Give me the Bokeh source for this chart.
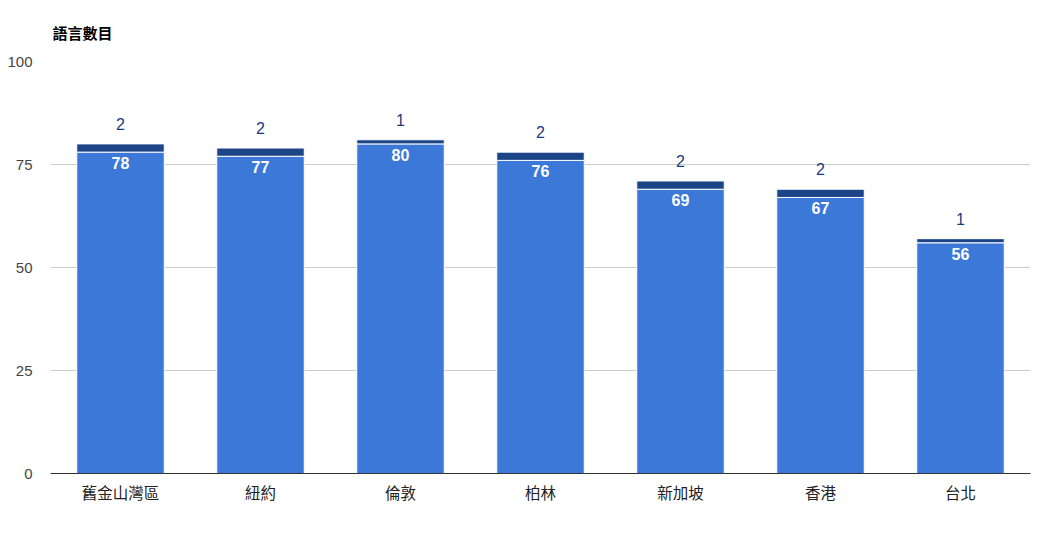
from bokeh.plotting import figure
from bokeh.models import ColumnDataSource, FactorRange, LabelSet, FixedTicker
from bokeh.core.properties import value
from bokeh.embed import file_html
from bokeh.resources import INLINE

cities = ["舊金山灣區", "紐約", "倫敦", "柏林", "新加坡", "香港", "台北"]
base_values = [78, 77, 80, 76, 69, 67, 56]
extra_values = [2, 2, 1, 2, 2, 2, 1]
y_ticks = [0, 25, 50, 75, 100]
title_text = "語言數目"

FONT = "'Liberation Sans', 'Noto Sans CJK TC', sans-serif"

totals = [b + e for b, e in zip(base_values, extra_values)]
src = ColumnDataSource(dict(
    city=cities, base=base_values, extra=extra_values, total=totals,
    base_lbl=[str(v) for v in base_values], extra_lbl=[str(v) for v in extra_values],
))

p = figure(x_range=FactorRange(*cities), y_range=(0, y_ticks[-1]), width=1040, height=530,
           output_backend="svg", toolbar_location=None,
           min_border_left=50, min_border_right=10, min_border_top=61, min_border_bottom=57)
p.outline_line_color = None
p.background_fill_color = "white"

p.vbar_stack(["base", "extra"], x="city", width=0.625, source=src,
             color=["#3c78d8", "#1c4587"], line_color="white", line_width=1)

p.add_layout(LabelSet(x="city", y="base", text="base_lbl", source=src, y_offset=-11,
                      text_align="center", text_baseline="middle", text_color="white",
                      text_font=value(FONT), text_font_size="16px", text_font_style="bold"))
p.add_layout(LabelSet(x="city", y="total", text="extra_lbl", source=src, y_offset=20,
                      text_align="center", text_baseline="middle", text_color="#1c3a80",
                      text_font=value(FONT), text_font_size="16px"))

p.title.text = title_text
p.title.text_font = FONT
p.title.text_font_size = "15px"
p.title.text_font_style = "bold"
p.title.text_color = "#000000"
p.title.offset = 2
p.title.standoff = 40

p.yaxis.ticker = FixedTicker(ticks=y_ticks)
p.yaxis.axis_line_color = None
p.yaxis.major_tick_line_color = None
p.yaxis.minor_tick_line_color = None
p.yaxis.major_label_text_font = FONT
p.yaxis.major_label_text_font_size = "15px"
p.yaxis.major_label_text_color = "#444444"
p.yaxis.major_label_standoff = 12

p.xaxis.axis_line_color = "#333333"
p.xaxis.major_tick_line_color = None
p.xaxis.minor_tick_line_color = None
p.xaxis.major_label_text_font = FONT
p.xaxis.major_label_text_font_size = "15.5px"
p.xaxis.major_label_text_color = "#222222"
p.xaxis.major_label_standoff = 5

p.xgrid.grid_line_color = None
p.ygrid.grid_line_color = "#cccccc"
p.x_range.range_padding = 0
p.x_range.group_padding = 0

open("out.html", "w").write(file_html(p, INLINE))
